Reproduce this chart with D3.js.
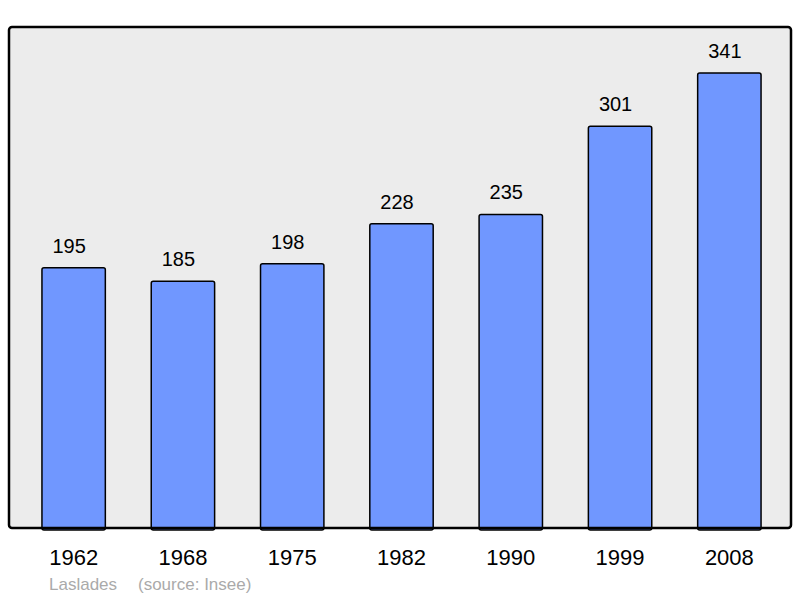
<html>
<head>
    <style>
        body { margin: 0; background: #ffffff; font-family: "Liberation Sans", Arial, sans-serif; }
    </style>
    <script src="https://cdn.jsdelivr.net/npm/d3@7"></script>
</head>
<body>
<svg id="grafico"></svg>
<script>
    // datos
    let annees = ["1962", "1968", "1975", "1982", "1990", "1999", "2008"];
    let population = [195, 185, 198, 228, 235, 301, 341];
    let commune = "Laslades";
    let source = "(source: Insee)";

    let ancho = 800, alto = 598;
    let marco = { left: 9, top: 27, right: 791, bottom: 528 };

    let svg = d3.select("#grafico").attr("width", ancho).attr("height", alto);

    let datos = annees.map((a, i) => ({ annee: a, valor: population[i] }));

    let escalaX = d3.scaleBand()
        .domain(annees)
        .range([19, 784])
        .paddingInner(0.42)
        .paddingOuter(0.21);

    let escalaY = d3.scaleLinear()
        .domain([0, d3.max(population) * 1.101])
        .range([marco.bottom, marco.top]);

    // fondo del grafico
    svg.append("rect")
        .attr("x", marco.left).attr("y", marco.top)
        .attr("width", marco.right - marco.left)
        .attr("height", marco.bottom - marco.top)
        .attr("rx", 3)
        .attr("fill", "#ececec");

    // barras
    svg.selectAll(".barra")
        .data(datos)
        .enter().append("rect")
            .attr("class", "barra")
            .attr("x", d => escalaX(d.annee))
            .attr("y", d => escalaY(d.valor))
            .attr("width", escalaX.bandwidth())
            .attr("height", d => escalaY(0) - escalaY(d.valor) + 2)
            .attr("rx", 2)
            .attr("fill", "#7097ff")
            .attr("stroke", "#000")
            .attr("stroke-width", 1.5);

    // marco encima de las barras
    svg.append("rect")
        .attr("x", marco.left).attr("y", marco.top)
        .attr("width", marco.right - marco.left)
        .attr("height", marco.bottom - marco.top)
        .attr("rx", 3)
        .attr("fill", "none")
        .attr("stroke", "#000")
        .attr("stroke-width", 2.5);

    // etiquetas de valores (algo desplazadas a la izquierda, como en el original)
    svg.selectAll(".valor")
        .data(datos)
        .enter().append("text")
            .attr("x", d => escalaX(d.annee) + escalaX.bandwidth() / 2 - 4.5)
            .attr("y", d => escalaY(d.valor) - 15)
            .attr("text-anchor", "middle")
            .attr("font-size", 20)
            .attr("fill", "#000")
            .text(d => d.valor);

    // eje de años (sin linea)
    let ejeX = d3.axisBottom(escalaX).tickSize(0).tickPadding(0);
    let gEje = svg.append("g")
        .attr("transform", `translate(0,${marco.bottom})`)
        .call(ejeX);
    gEje.select(".domain").remove();
    gEje.selectAll("text")
        .attr("y", 37)
        .attr("dy", 0)
        .attr("font-size", 22)
        .attr("font-family", "Liberation Sans, Arial, sans-serif")
        .attr("fill", "#000");

    // fuente
    svg.append("text")
        .attr("x", 49).attr("y", 590)
        .attr("font-size", 17)
        .attr("fill", "#aaaaaa")
        .text(commune);
    svg.append("text")
        .attr("x", 138).attr("y", 590)
        .attr("font-size", 17)
        .attr("fill", "#aaaaaa")
        .text(source);
</script>
</body>
</html>
